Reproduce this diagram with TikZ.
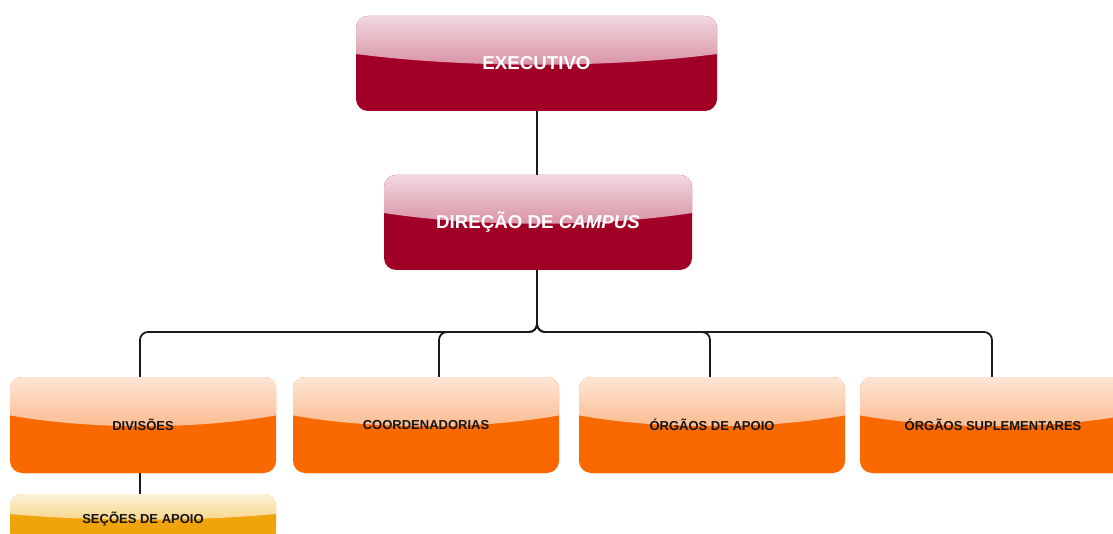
\documentclass[tikz,border=0pt]{standalone}
\usepackage{fontspec}
\setmainfont{Liberation Sans}
\usetikzlibrary{calc}
\definecolor{wine}{HTML}{A10026}
\definecolor{wineA}{HTML}{F2D8DF}
\definecolor{wineB}{HTML}{C25270}
\definecolor{orng}{HTML}{FA6800}
\definecolor{orngA}{HTML}{FDE6D6}
\definecolor{orngB}{HTML}{FB954F}
\definecolor{ambr}{HTML}{F0A30A}
\definecolor{ambrA}{HTML}{FCF2DA}
\definecolor{ambrB}{HTML}{F4BC45}
\definecolor{lin}{HTML}{1A1A1A}
\definecolor{txt}{HTML}{141414}
\tikzset{
  gloss/.style n args={3}{rectangle, rounded corners=12pt, fill=#1, draw=none,
    inner sep=0pt,
    path picture={\shade[sharp corners, top color=#2, bottom color=#3]
      let \p1=(path picture bounding box.north west),
          \p2=(path picture bounding box.south east),
          \n1={\y1-\y2}, \n2={\x2-\x1} in
      (\x1,\y1) -- (\x2,\y1) -- (\x2,{\y1-0.4*\n1})
      .. controls ({\x2-0.3*\n2},{\y1-0.55*\n1}) and ({\x1+0.3*\n2},{\y1-0.55*\n1})
      .. (\x1,{\y1-0.4*\n1}) -- cycle;
      \draw[#1!90!black, line width=0.8pt]
      let \p1=(path picture bounding box.north west),
          \p2=(path picture bounding box.south east) in
      ([xshift=12pt]\x1,\y2) -- ([xshift=-12pt]\x2,\y2);}},
  topbox/.style={gloss={wine}{wineA}{wineB}, minimum height=95pt, text=white,
    font=\fontsize{18.7}{22}\selectfont\bfseries},
  midbox/.style={gloss={orng}{orngA}{orngB}, minimum width=266pt, minimum height=96pt,
    text=txt, font=\fontsize{13}{15}\selectfont\bfseries},
  lowbox/.style={gloss={ambr}{ambrA}{ambrB}, minimum width=266pt, minimum height=50pt,
    text=txt, font=\fontsize{13}{15}\selectfont\bfseries},
  conn/.style={draw=lin, line width=1.8pt, rounded corners=8pt}
}
\begin{document}
\begin{tikzpicture}[x=1pt,y=-1pt]
\useasboundingbox (0,0) rectangle (1113,534);
\clip (0,0) rectangle (1113,534);
\fill[white] (0,0) rectangle (1113,534);
\coordinate (bus) at (537,332);
\node[topbox, minimum width=361pt] (exe) at (536.5,63.5) {EXECUTIVO};
\node[topbox, minimum width=308pt] (dir) at (538,222.5) {DIREÇÃO DE \textit{CAMPUS}};
\node[midbox] (div) at (143,425) {DIVISÕES};
\node[midbox] (coo) at (426,425) {COORDENADORIAS};
\node[midbox] (apo) at (712,425) {ÓRGÃOS DE APOIO};
\node[midbox] (sup) at (993,425) {ÓRGÃOS SUPLEMENTARES};
\node[lowbox] (sec) at (143,519) {SEÇÕES DE APOIO};
\draw[conn] (exe.south -| bus) -- (dir.north -| bus);
\draw[conn] (dir.south -| bus) -- (bus) -| ($(div.north)+(-3,0)$);
\draw[conn] (dir.south -| bus) -- (bus) -| ($(coo.north)+(13,0)$);
\draw[conn] (dir.south -| bus) -- (bus) -| ($(apo.north)+(-2,0)$);
\draw[conn] (dir.south -| bus) -- (bus) -| ($(sup.north)+(-1,0)$);
\draw[conn] ($(div.south)+(-3,0)$) -- ($(sec.north)+(-3,0)$);
\end{tikzpicture}
\end{document}
